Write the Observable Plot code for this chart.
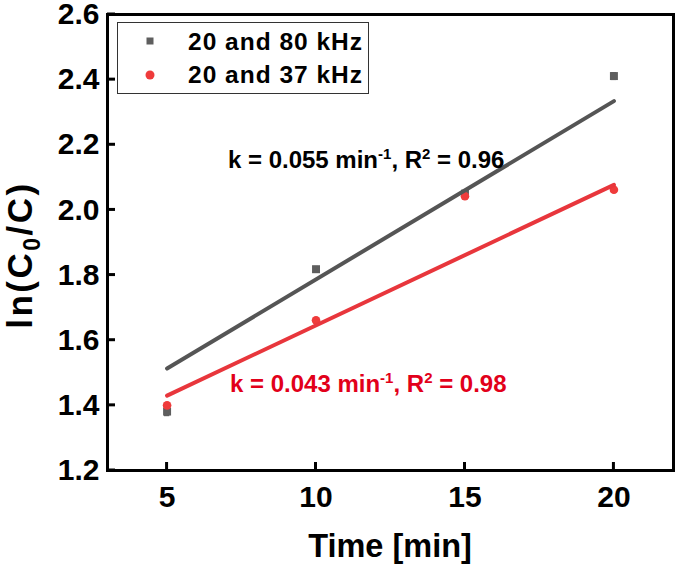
<!DOCTYPE html>
<html><head><meta charset="utf-8">
<script src="https://cdn.jsdelivr.net/npm/d3@7"></script>
<script src="https://cdn.jsdelivr.net/npm/@observablehq/plot@0.6"></script>
<style>body{margin:0;background:#fff} #chart svg{display:block}</style>
</head><body><div id="chart"></div>
<script>
// ---- data ----
const times = [5, 10, 15, 20];
const ln80 = [1.381, 1.818, 2.05, 2.411];
const err80 = [0.012, 0.008, 0.008, 0.010];
const ln37 = [1.400, 1.661, 2.042, 2.062];
const err37 = [0.006, 0.005, 0.008, 0.006];
const fitTimes = [5, 20];
const fit80 = [1.513, 2.334];
const fit37 = [1.430, 2.077];
const seriesNames = ["20 and 80 kHz", "20 and 37 kHz"];
const fitK = ["0.055", "0.043"];
const fitR2 = ["0.96", "0.98"];
const xTicks = [5, 10, 15, 20];
const yTicks = [1.2, 1.4, 1.6, 1.8, 2.0, 2.2, 2.4, 2.6];
const xDomain = [3, 22];
const yDomain = [1.2, 2.6];
const xTitle = "Time [min]";

// ---- styling ----
const FONT = "'Liberation Sans', Arial, sans-serif";
const GRAY = "#5e5e5e", GRAY_LINE = "#555555";
const RED = "#ef3b3b", RED_LINE = "#e8363c", RED_TEXT = "#e2001a";

const pts80 = times.map((t, i) => ({t, v: ln80[i], e: err80[i]}));
const pts37 = times.map((t, i) => ({t, v: ln37[i], e: err37[i]}));
const line80 = fitTimes.map((t, i) => ({t, v: fit80[i]}));
const line37 = fitTimes.map((t, i) => ({t, v: fit37[i]}));

function errMarks(data, color) {
  return [
    Plot.ruleX(data, {x: "t", y1: d => d.v - d.e, y2: d => d.v + d.e, stroke: color, strokeWidth: 1.5}),
    Plot.ruleY(data, {y: d => d.v - d.e, x1: d => d.t - 0.09, x2: d => d.t + 0.09, stroke: color, strokeWidth: 1.5}),
    Plot.ruleY(data, {y: d => d.v + d.e, x1: d => d.t - 0.09, x2: d => d.t + 0.09, stroke: color, strokeWidth: 1.5})
  ];
}

// inward ticks drawn with Plot's own scales
function inwardTicks(index, scales, values, dims) {
  const g = d3.create("svg:g").attr("stroke", "black").attr("stroke-width", 3);
  const yb = dims.height - dims.marginBottom, xl = dims.marginLeft;
  xTicks.forEach(t => g.append("line").attr("x1", scales.x(t)).attr("x2", scales.x(t)).attr("y1", yb).attr("y2", yb - 8));
  yTicks.forEach(t => g.append("line").attr("y1", scales.y(t)).attr("y2", scales.y(t)).attr("x1", xl).attr("x2", xl + 8));
  return g.node();
}

function overlay(index, scales, values, dims) {
  const g = d3.create("svg:g").attr("font-family", FONT).attr("font-weight", "bold").attr("text-anchor", "start");
  // legend
  g.append("rect").attr("x", 117.5).attr("y", 22.5).attr("width", 251).attr("height", 71)
    .attr("fill", "white").attr("stroke", "#333").attr("stroke-width", 1);
  g.append("rect").attr("x", 146.5).attr("y", 37.5).attr("width", 7).attr("height", 7).attr("fill", GRAY);
  g.append("circle").attr("cx", 150).attr("cy", 75).attr("r", 4.5).attr("fill", RED);
  [50, 83].forEach((yb, i) => {
    g.append("text").attr("x", 188).attr("y", yb).attr("font-size", 24.5)
      .attr("letter-spacing", "1px").attr("fill", "black").text(seriesNames[i]);
  });
  // fit annotations
  const ann = [
    {x: scales.x(7.06), y: scales.y(2.127), color: "black"},
    {x: scales.x(7.13), y: scales.y(1.44), color: RED_TEXT}
  ];
  ann.forEach((a, i) => {
    const t = g.append("text").attr("x", a.x).attr("y", a.y).attr("font-size", 24).attr("fill", a.color);
    t.append("tspan").text(`k = ${fitK[i]} min`);
    t.append("tspan").attr("font-size", 15).attr("dy", -9).text("-1");
    t.append("tspan").attr("dy", 9).text(", R");
    t.append("tspan").attr("font-size", 15).attr("dy", -9).text("2");
    t.append("tspan").attr("dy", 9).text(` = ${fitR2[i]}`);
  });
  // axis titles
  const cx = (dims.marginLeft + dims.width - dims.marginRight) / 2;
  g.append("text").attr("x", cx).attr("y", 557).attr("text-anchor", "middle")
    .attr("font-size", 32.5).attr("fill", "black").text(xTitle);
  const yt = g.append("text").attr("transform", "translate(32,255) rotate(-90)")
    .attr("text-anchor", "middle").attr("font-size", 35).attr("letter-spacing", "2.5px").attr("fill", "black");
  yt.append("tspan").text("ln(C");
  yt.append("tspan").attr("font-size", 23).attr("dy", 8).text("0");
  yt.append("tspan").attr("dy", -8).text("/C)");
  return g.node();
}

const chart = Plot.plot({
  width: 677,
  height: 566,
  marginLeft: 107,
  marginRight: 4,
  marginTop: 14,
  marginBottom: 96,
  style: {fontFamily: FONT, background: "white"},
  x: {domain: xDomain, label: null},
  y: {domain: yDomain, label: null},
  marks: [
    ...errMarks(pts80, GRAY),
    Plot.dot(pts80, {x: "t", y: "v", symbol: "square", r: 4.5, fill: GRAY}),
    ...errMarks(pts37, RED),
    Plot.dot(pts37, {x: "t", y: "v", r: 4.3, fill: RED}),
    Plot.line(line80, {x: "t", y: "v", stroke: GRAY_LINE, strokeWidth: 4}),
    Plot.line(line37, {x: "t", y: "v", stroke: RED_LINE, strokeWidth: 4}),
    Plot.axisX({ticks: xTicks, tickSize: 0, tickPadding: 15, fontSize: 30, fontWeight: "bold", fill: "black", label: null}),
    Plot.axisY({ticks: yTicks, tickSize: 0, tickPadding: 8, tickFormat: d3.format(".1f"), fontSize: 30, fontWeight: "bold", fill: "black", letterSpacing: "1.5px", label: null}),
    inwardTicks,
    Plot.frame({stroke: "black", strokeWidth: 3}),
    overlay
  ]
});
document.getElementById("chart").appendChild(chart);
</script>
</body></html>
